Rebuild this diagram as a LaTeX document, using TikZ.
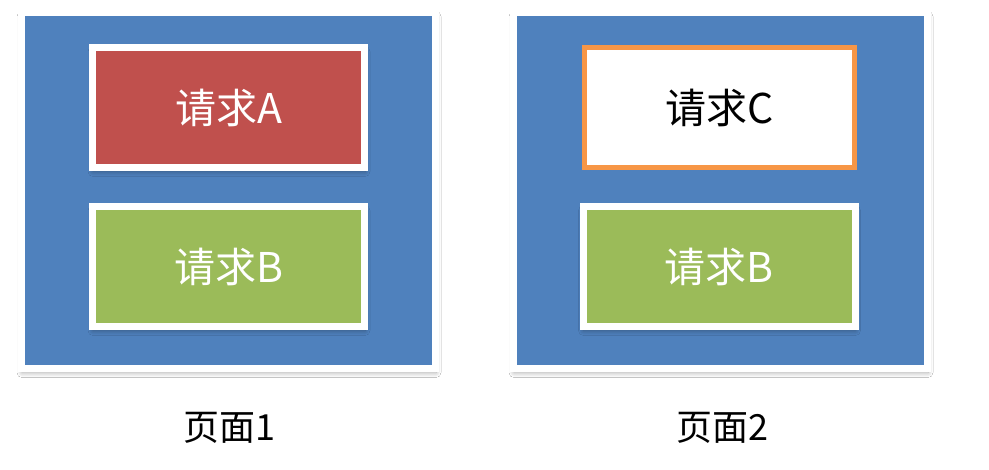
\documentclass[tikz,border=0pt]{standalone}
\usepackage{fontspec}
\setmainfont{Noto Sans CJK SC}
\usetikzlibrary{shadows.blur}

\definecolor{pageblue}{HTML}{4F81BD}
\definecolor{reqred}{HTML}{C0504D}
\definecolor{reqgreen}{HTML}{9BBB59}
\definecolor{reqorange}{HTML}{F79646}

\tikzset{
  softshadow/.style={blur shadow={shadow xshift=0.5pt, shadow yshift=-4pt,
    shadow blur radius=5pt, shadow blur steps=8, shadow opacity=35}},
  pagebox/.style={draw=white, line width=7pt, fill=pageblue, inner sep=0pt,
    minimum width=414pt, minimum height=356pt, softshadow},
  reqbox/.style={draw=white, line width=7pt, inner sep=0pt,
    minimum width=272pt, minimum height=120pt, text=white,
    font=\fontsize{41}{48}\selectfont, softshadow},
  pagelabel/.style={font=\fontsize{36}{42}\selectfont}
}

\begin{document}
\begin{tikzpicture}[x=1pt,y=-1pt]
  \useasboundingbox[fill=white] (0,0) rectangle (989,470);

  % page 1
  \node[pagebox] (page1) at (228.5,190.5) {};
  \node[reqbox, fill=reqred] (reqA) at (228.5,107.5) {请求A};
  \node[reqbox, fill=reqgreen] (reqB1) at (228.5,266.5) {请求B};
  \node[pagelabel] (label1) at (229,428) {页面1};

  % page 2
  \node[pagebox] (page2) at (720.5,190.5) {};
  \node[draw=reqorange, line width=5pt, fill=white, inner sep=0pt,
    minimum width=270pt, minimum height=120pt,
    font=\fontsize{41}{48}\selectfont] (reqC) at (719.5,107.5) {请求C};
  \node[reqbox, fill=reqgreen] (reqB2) at (719,266.5) {请求B};
  \node[pagelabel] (label2) at (722,428) {页面2};
\end{tikzpicture}
\end{document}
